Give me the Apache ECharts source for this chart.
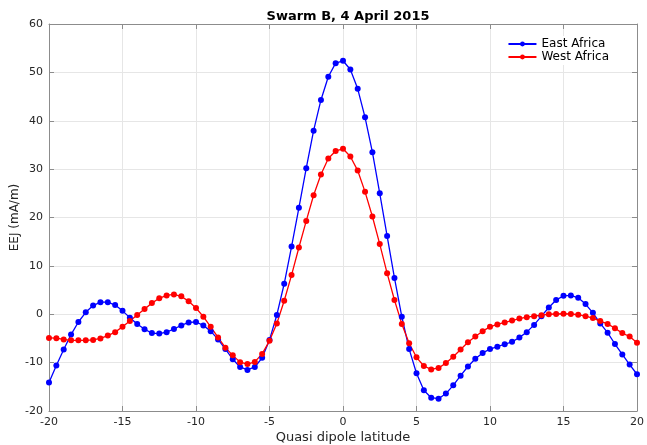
<!DOCTYPE html>
<html>
<head>
<meta charset="utf-8">
<script src="https://cdn.jsdelivr.net/npm/echarts@6/dist/echarts.min.js"></script>
<style>html,body{margin:0;padding:0;background:#fff;}#c{width:647px;height:445px;}</style>
</head>
<body>
<div id="c"></div>
<script>
const latitudes = [];
for (let i = 0; i <= 80; i++) latitudes.push(-20 + i * 0.5);

const eastAfrica = [
  -14.1, -10.6, -7.3, -4.2, -1.6, 0.4, 1.8, 2.5, 2.5, 1.9,
  0.7, -0.7, -2.0, -3.1, -3.9, -4.0, -3.7, -3.05, -2.3, -1.7,
  -1.6, -2.3, -3.5, -5.2, -7.2, -9.3, -10.9, -11.5, -10.9, -9.0,
  -5.3, -0.15, 6.3, 14.0, 22.0, 30.2, 37.95, 44.3, 49.1, 51.9,
  52.4,
  50.6, 46.6, 40.7, 33.5, 25.0, 16.2, 7.5, -0.5, -7.2, -12.2,
  -15.7, -17.25, -17.45, -16.4, -14.7, -12.7, -10.8, -9.2, -8.0, -7.2,
  -6.7, -6.2, -5.7, -4.8, -3.7, -2.2, -0.4, 1.4, 2.95, 3.8,
  3.9, 3.4, 2.1, 0.3, -1.9, -3.8, -6.15, -8.3, -10.4, -12.4
];

const westAfrica = [
  -4.9, -4.95, -5.2, -5.4, -5.4, -5.4, -5.3, -5.0, -4.4, -3.7,
  -2.6, -1.4, -0.15, 1.1, 2.3, 3.3, 3.9, 4.1, 3.7, 2.7,
  1.3, -0.5, -2.6, -4.8, -6.9, -8.5, -9.9, -10.3, -9.85, -8.2,
  -5.5, -1.9, 2.8, 8.1, 13.8, 19.3, 24.6, 28.9, 32.2, 33.75,
  34.2,
  32.6, 29.7, 25.3, 20.2, 14.5, 8.5, 2.95, -2.0, -6.0, -8.9,
  -10.7, -11.4, -11.1, -10.1, -8.8, -7.3, -5.8, -4.6, -3.5, -2.6,
  -2.1, -1.7, -1.3, -0.9, -0.6, -0.4, -0.2, 0.0, 0.05, 0.1,
  0.05, -0.1, -0.4, -0.8, -1.4, -2.0, -2.9, -3.9, -4.6, -5.9
];

const seriesNames = ['East Africa', 'West Africa'];
const titleText = 'Swarm B, 4 April 2015';
const xLabel = 'Quasi dipole latitude';
const yLabel = 'EEJ (mA/m)';

const font = 'DejaVu Sans';
const axisColor = '#8c8c8c';
const textColor = '#262626';

function pairs(ys) { return latitudes.map((x, i) => [x, ys[i]]); }

const chart = echarts.init(document.getElementById('c'), null, {renderer: 'canvas'});
const hiddenAxis = {
  axisLine: {show: true, onZero: false, lineStyle: {color: axisColor, width: 1}},
  axisTick: {show: true, inside: true, length: 5, lineStyle: {color: axisColor}},
  axisLabel: {show: false},
  splitLine: {show: false}
};
chart.setOption({
  animation: false,
  backgroundColor: '#fff',
  title: {
    text: titleText, left: 343, top: 5, textAlign: 'center',
    textStyle: {fontFamily: font, fontSize: 13, fontWeight: 'bold', color: '#000'}
  },
  legend: {
    data: seriesNames, right: 34, top: 36, orient: 'vertical',
    itemWidth: 28, itemHeight: 6, itemGap: 1,
    backgroundColor: '#fff', padding: [2, 4, 2, 6],
    textStyle: {fontFamily: font, fontSize: 12, color: '#000'}
  },
  grid: {left: 49, right: 10, top: 24, bottom: 34, containLabel: false, outerBoundsMode: 'none'},
  xAxis: [{
    type: 'value', min: -20, max: 20, interval: 5,
    name: xLabel, nameLocation: 'middle', nameGap: 20, nameMoveOverlap: false,
    nameTextStyle: {fontFamily: font, fontSize: 13, color: textColor},
    axisLine: {show: true, onZero: false, lineStyle: {color: axisColor, width: 1}},
    axisTick: {show: true, inside: true, length: 5, lineStyle: {color: axisColor}},
    axisLabel: {fontFamily: font, fontSize: 11, color: textColor, margin: 6},
    splitLine: {show: true, lineStyle: {color: '#e6e6e6', width: 1}}
  }, Object.assign({type: 'value', min: -20, max: 20, interval: 5, position: 'top'}, hiddenAxis)],
  yAxis: [{
    type: 'value', min: -20, max: 60, interval: 10,
    name: yLabel, nameLocation: 'middle', nameGap: 28, nameMoveOverlap: false,
    nameTextStyle: {fontFamily: font, fontSize: 12, color: textColor},
    axisLine: {show: true, onZero: false, lineStyle: {color: axisColor, width: 1}},
    axisTick: {show: true, inside: true, length: 5, lineStyle: {color: axisColor}},
    axisLabel: {fontFamily: font, fontSize: 11, color: textColor, margin: 6},
    splitLine: {show: true, lineStyle: {color: '#e6e6e6', width: 1}}
  }, Object.assign({type: 'value', min: -20, max: 60, interval: 10, position: 'right'}, hiddenAxis)],
  series: [
    {
      name: seriesNames[0], type: 'line', data: pairs(eastAfrica),
      symbol: 'circle', symbolSize: 6, showAllSymbol: true,
      itemStyle: {color: '#0000ff'}, lineStyle: {color: '#0000ff', width: 1.3}
    },
    {
      name: seriesNames[1], type: 'line', data: pairs(westAfrica),
      symbol: 'circle', symbolSize: 6, showAllSymbol: true,
      itemStyle: {color: '#ff0000'}, lineStyle: {color: '#ff0000', width: 1.3}
    }
  ]
});
</script>
</body>
</html>
